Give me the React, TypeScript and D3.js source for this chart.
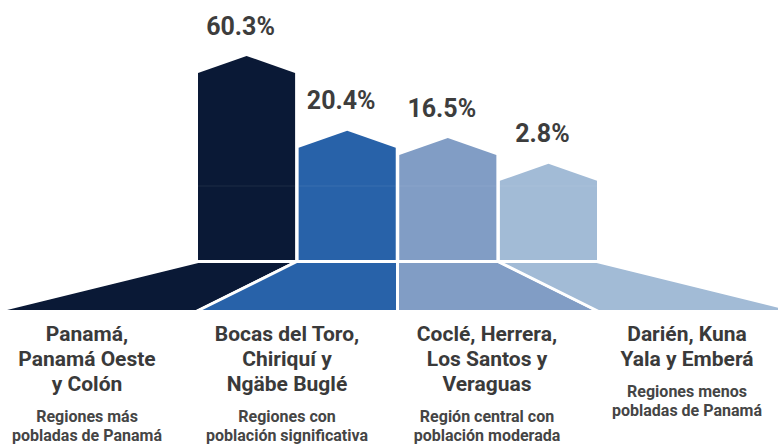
import * as d3 from 'd3';

const regions = ['metro', 'occidente', 'centro', 'oriente'];
const shares = [60.3, 20.4, 16.5, 2.8];
const colors = ['#0a1936', '#2862a9', '#819dc5', '#a2bbd6'];
const titleLines = [
  ['Panamá,', 'Panamá Oeste', 'y Colón'],
  ['Bocas del Toro,', 'Chiriquí y', 'Ngäbe Buglé'],
  ['Coclé, Herrera,', 'Los Santos y', 'Veraguas'],
  ['Darién, Kuna', 'Yala y Emberá'],
];
const noteLines = [
  ['Regiones más', 'pobladas de Panamá'],
  ['Regiones con', 'población significativa'],
  ['Región central con', 'población moderada'],
  ['Regiones menos', 'pobladas de Panamá'],
];

const width = 778;
const height = 444;
const barBottom = 260;
const roof = 17;
const baseTop = 261.5;
const baseBottom = 311.5;

export default function App() {
  const x = d3
    .scaleBand<string>()
    .domain(regions)
    .range([198, 597])
    .paddingInner(0.035);
  // bars start from a common plinth, so zero is not at the bottom
  const y = d3.scaleLinear().domain([0, 60.3]).range([186, 73]);

  // fan-shaped base split into four slices
  const gapMid = (i: number) => {
    if (i === 0) return x(regions[0])!;
    if (i === regions.length) return x(regions[i - 1])! + x.bandwidth();
    return (x(regions[i - 1])! + x.bandwidth() + x(regions[i])!) / 2;
  };
  const fanBottom = d3.scaleLinear().domain([0, regions.length]).range([-5, 800]);
  const textX = d3.scalePoint<string>().domain(regions).range([87, 687]);

  const font = 'Roboto, "Noto Sans", sans-serif';

  return (
    <svg
      width={width}
      height={height}
      viewBox={`0 0 ${width} ${height}`}
      style={{ position: 'absolute', left: 0, top: 0, display: 'block', background: '#fff' }}
    >
      {/* base */}
      {regions.map((r, i) => {
        const pts: [number, number][] = [
          [gapMid(i), baseTop],
          [gapMid(i + 1), baseTop],
          [fanBottom(i + 1), baseBottom],
          [fanBottom(i), baseBottom],
        ];
        return (
          <path
            key={`base-${r}`}
            d={d3.line()(pts)! + 'Z'}
            fill={colors[i]}
            stroke="#fff"
            strokeWidth={3}
            strokeLinejoin="miter"
          />
        );
      })}

      {/* house-shaped bars */}
      {regions.map((r, i) => {
        const x0 = x(r)!;
        const x1 = x0 + x.bandwidth();
        const eave = y(shares[i]);
        const pts: [number, number][] = [
          [x0, barBottom],
          [x0, eave],
          [(x0 + x1) / 2, eave - roof],
          [x1, eave],
          [x1, barBottom],
        ];
        return (
          <g key={`bar-${r}`}>
            <path d={d3.line()(pts)! + 'Z'} fill={colors[i]} />
            <line
              x1={x0}
              x2={x1}
              y1={y(0)}
              y2={y(0)}
              stroke="#fff"
              strokeOpacity={0.08}
              strokeWidth={1}
            />
            <text
              x={(x0 + x1) / 2 - 6}
              y={eave - roof - 21.5}
              textAnchor="middle"
              fontFamily={font}
              fontWeight={700}
              fontSize={25}
              fill="#3d3d3d"
            >
              {shares[i].toFixed(1)}%
            </text>
          </g>
        );
      })}

      {/* labels */}
      {regions.map((r, i) => {
        const cx = textX(r)!;
        const titles = titleLines[i];
        const noteStart = 341 + (titles.length - 1) * 25 + 31;
        return (
          <g key={`lab-${r}`} fontFamily={font} fontWeight={700} textAnchor="middle">
            {titles.map((t, j) => (
              <text key={t} x={cx} y={341 + j * 25} fontSize={21} fill="#3a3a3a">
                {t}
              </text>
            ))}
            {noteLines[i].map((t, j) => (
              <text key={t} x={cx} y={noteStart + j * 19} fontSize={16} fill="#454545">
                {t}
              </text>
            ))}
          </g>
        );
      })}
    </svg>
  );
}
